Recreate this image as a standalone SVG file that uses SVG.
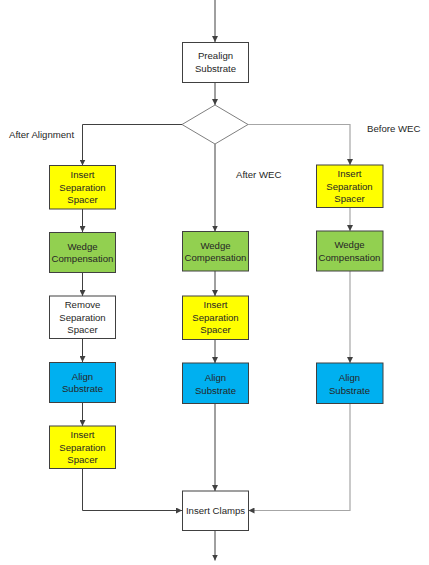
<svg xmlns="http://www.w3.org/2000/svg" width="429" height="565" viewBox="0 0 429 565">
<defs>
<marker id="ah" markerWidth="6" markerHeight="6" refX="6" refY="3" orient="auto" markerUnits="userSpaceOnUse"><path d="M0,0 L6,3 L0,6 z" fill="#404040"/></marker>
<marker id="ahg" markerWidth="6" markerHeight="6" refX="6" refY="3" orient="auto" markerUnits="userSpaceOnUse"><path d="M0,0 L6,3 L0,6 z" fill="#404040"/></marker>
</defs>
<style>
.box{stroke:#404040;stroke-width:1}
.w{fill:#ffffff}
.y{fill:#ffff00}
.g{fill:#92d050}
.b{fill:#00b0f0}
.c{fill:none;stroke:#404040;stroke-width:1}
.cg{fill:none;stroke:#a6a6a6;stroke-width:1.2}
text{font-family:"Liberation Sans",Arial,sans-serif;font-size:9.6px;fill:#262626;text-anchor:middle;dominant-baseline:central}
.lbl{text-anchor:start}
</style>
<rect width="429" height="565" fill="#ffffff"/>
<g id="connectors">
<path class="c" d="M215,0 V42" marker-end="url(#ah)"/>
<path class="c" d="M215,82.5 V105" marker-end="url(#ah)"/>
<path class="c" d="M182,124.5 H82.5 V165.5" marker-end="url(#ah)"/>
<path class="cg" d="M248,124.5 H350 V165" marker-end="url(#ahg)"/>
<path class="c" d="M215,144 V231.5" marker-end="url(#ah)"/>
<path class="c" d="M82.5,209 V232" marker-end="url(#ah)"/>
<path class="c" d="M82.5,272.5 V296" marker-end="url(#ah)"/>
<path class="c" d="M82.5,338.5 V362" marker-end="url(#ah)"/>
<path class="c" d="M82.5,402.5 V426" marker-end="url(#ah)"/>
<path class="c" d="M82.5,468.5 V510.5 H182" marker-end="url(#ah)"/>
<path class="c" d="M215,271 V296" marker-end="url(#ah)"/>
<path class="c" d="M215,339.5 V363" marker-end="url(#ah)"/>
<path class="c" d="M215,403.5 V491" marker-end="url(#ah)"/>
<path class="cg" d="M350,207.5 V231" marker-end="url(#ahg)"/>
<path class="cg" d="M350,271 V363" marker-end="url(#ahg)"/>
<path class="cg" d="M350,403.5 V510.5 H248.5" marker-end="url(#ahg)"/>
<path class="c" d="M215,530.5 V560.5" marker-end="url(#ah)"/>
</g>
<g id="prealign"><rect class="box w" x="182.5" y="42.5" width="66" height="40"/><text x="215.5" y="55.7">Prealign</text><text x="215.5" y="68.5">Substrate</text></g>
<g id="decision"><path d="M215,105 L248,124.5 L215,144 L182,124.5 z" fill="#ffffff" stroke="#7f7f7f" stroke-width="1"/></g>
<g id="labels">
<text class="lbl" x="9" y="134">After Alignment</text>
<text class="lbl" x="367" y="128">Before WEC</text>
<text class="lbl" x="236" y="174">After WEC</text>
</g>
<g id="l1"><rect class="box y" x="49.5" y="165.5" width="66" height="43.5"/><text x="82.5" y="174.7">Insert</text><text x="82.5" y="187">Separation</text><text x="82.5" y="199.3">Spacer</text></g>
<g id="l2"><rect class="box g" x="49.5" y="232.5" width="66" height="40"/><text x="82.5" y="246">Wedge</text><text x="82.5" y="258.3">Compensation</text></g>
<g id="l3"><rect class="box w" x="49.5" y="296" width="66" height="42.5"/><text x="82.5" y="304.7">Remove</text><text x="82.5" y="317">Separation</text><text x="82.5" y="329.3">Spacer</text></g>
<g id="l4"><rect class="box b" x="49.5" y="362.5" width="66" height="40"/><text x="82.5" y="376">Align</text><text x="82.5" y="388.3">Substrate</text></g>
<g id="l5"><rect class="box y" x="49.5" y="426" width="66" height="42.5"/><text x="82.5" y="434.7">Insert</text><text x="82.5" y="447">Separation</text><text x="82.5" y="459.3">Spacer</text></g>
<g id="m1"><rect class="box g" x="182.5" y="231.5" width="66" height="39.5"/><text x="215.5" y="245">Wedge</text><text x="215.5" y="257.3">Compensation</text></g>
<g id="m2"><rect class="box y" x="182.5" y="296" width="66" height="43.5"/><text x="215.5" y="304.7">Insert</text><text x="215.5" y="317">Separation</text><text x="215.5" y="329.3">Spacer</text></g>
<g id="m3"><rect class="box b" x="182.5" y="363" width="66" height="40.5"/><text x="215.5" y="377.7">Align</text><text x="215.5" y="390">Substrate</text></g>
<g id="r1"><rect class="box y" x="316.5" y="165" width="66.5" height="42.5"/><text x="349.5" y="173.7">Insert</text><text x="349.5" y="186">Separation</text><text x="349.5" y="198.3">Spacer</text></g>
<g id="r2"><rect class="box g" x="316.5" y="231" width="66.5" height="40"/><text x="349.5" y="244.7">Wedge</text><text x="349.5" y="257">Compensation</text></g>
<g id="r3"><rect class="box b" x="316.5" y="363" width="66.5" height="40.5"/><text x="349.5" y="377.7">Align</text><text x="349.5" y="390">Substrate</text></g>
<g id="clamps"><rect class="box w" x="182.5" y="491" width="66" height="39.5"/><text x="215.5" y="510.7">Insert Clamps</text></g>
</svg>
